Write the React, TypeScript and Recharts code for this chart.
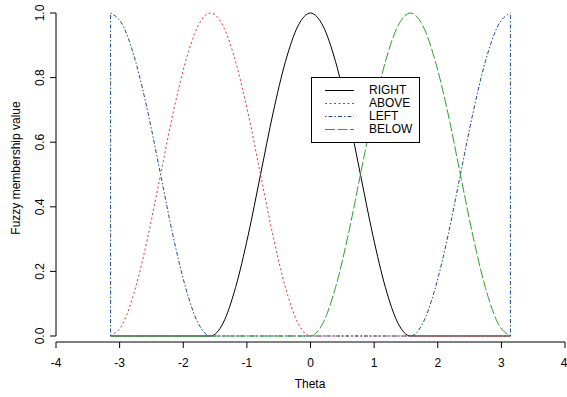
import React from 'react';
import { LineChart, Line, XAxis, YAxis, ReferenceLine } from 'recharts';

// theta grid (step pi/16)
const theta = [
  -3.142, -2.945, -2.749, -2.553, -2.356, -2.16, -1.963, -1.767, -1.571, -1.374, -1.178,
  -0.982, -0.785, -0.589, -0.393, -0.196, 0, 0.196, 0.393, 0.589, 0.785, 0.982, 1.178,
  1.374, 1.571, 1.767, 1.963, 2.16, 2.356, 2.553, 2.749, 2.945, 3.142,
];

const right = [
  0, 0, 0, 0, 0, 0, 0, 0, 0, 0.04, 0.15, 0.31, 0.5, 0.69, 0.85, 0.96, 1,
  0.96, 0.85, 0.69, 0.5, 0.31, 0.15, 0.04, 0, 0, 0, 0, 0, 0, 0, 0, 0,
];
const above = [
  0, 0.04, 0.15, 0.31, 0.5, 0.69, 0.85, 0.96, 1, 0.96, 0.85, 0.69, 0.5, 0.31, 0.15, 0.04, 0,
  0, 0, 0, 0, 0, 0, 0, 0, 0, 0, 0, 0, 0, 0, 0, 0,
];
const left = [
  1, 0.96, 0.85, 0.69, 0.5, 0.31, 0.15, 0.04, 0, 0, 0, 0, 0, 0, 0, 0, 0,
  0, 0, 0, 0, 0, 0, 0, 0, 0.04, 0.15, 0.31, 0.5, 0.69, 0.85, 0.96, 1,
];
const below = [
  0, 0, 0, 0, 0, 0, 0, 0, 0, 0, 0, 0, 0, 0, 0, 0, 0,
  0.04, 0.15, 0.31, 0.5, 0.69, 0.85, 0.96, 1, 0.96, 0.85, 0.69, 0.5, 0.31, 0.15, 0.04, 0,
];

// vertical jumps of LEFT at the ends of the range
const edgeTheta = [-3.142, 3.142];
const edgeValues = [0, 1];

const xTicks = [-4, -3, -2, -1, 0, 1, 2, 3, 4];
const yTicks = [0, 0.2, 0.4, 0.6, 0.8, 1];

const series = [
  { key: 'right', name: 'RIGHT', color: '#000000', dash: undefined },
  { key: 'above', name: 'ABOVE', color: '#e03030', dash: '2 2.5' },
  { key: 'left', name: 'LEFT', color: '#1a4a94', dash: '1.5 2 4 2' },
  { key: 'below', name: 'BELOW', color: '#2aa22a', dash: '10 2.5' },
];

const data = theta.map((t, i) => ({
  theta: t,
  right: right[i],
  above: above[i],
  left: left[i],
  below: below[i],
}));

const font = '"Liberation Sans", Arial, Helvetica, sans-serif';

function YTick(props: any) {
  const { y, payload } = props;
  return (
    <text
      x={44}
      y={y}
      transform={`rotate(-90 44 ${y})`}
      textAnchor="middle"
      fontSize={12}
      fontFamily={font}
      fill="#000"
    >
      {Number(payload.value).toFixed(1)}
    </text>
  );
}

function LegendBox() {
  return (
    <div
      style={{
        position: 'absolute',
        left: 311,
        top: 77,
        width: 109,
        height: 66,
        border: '1px solid #000',
        background: '#fff',
        boxSizing: 'border-box',
        paddingTop: 6,
        fontSize: 12,
      }}
    >
      {series.map((s) => (
        <div key={s.key} style={{ display: 'flex', alignItems: 'center', height: 13 }}>
          <svg width={57} height={13} style={{ display: 'block' }}>
            <line x1={13} x2={42} y1={6.5} y2={6.5} stroke={s.color} strokeDasharray={s.dash} />
          </svg>
          <span style={{ lineHeight: '13px' }}>{s.name}</span>
        </div>
      ))}
    </div>
  );
}

export default function App() {
  return (
    <div style={{ position: 'absolute', left: 0, top: 0, width: 567, height: 397, fontFamily: font }}>
      <LineChart width={567} height={397} data={data} margin={{ top: 7, right: 2, bottom: 0, left: 0 }}>
        <XAxis
          dataKey="theta"
          type="number"
          domain={[-4, 4]}
          ticks={xTicks}
          height={55}
          stroke="#000"
          tickSize={6}
          tickMargin={10}
          tick={{ fill: '#000', fontSize: 12, fontFamily: font }}
        />
        <YAxis
          type="number"
          domain={[0, 1]}
          ticks={yTicks}
          width={56}
          padding={{ top: 6, bottom: 6 }}
          axisLine={false}
          tickLine={{ stroke: '#000' }}
          tickSize={6}
          tick={<YTick />}
        />
        <ReferenceLine
          segment={[{ x: -4, y: 0 }, { x: -4, y: 1 }]}
          stroke="#000"
          ifOverflow="visible"
        />
        {series.map((s) => (
          <Line
            key={s.key}
            dataKey={s.key}
            name={s.name}
            type="monotone"
            stroke={s.color}
            strokeWidth={1}
            strokeDasharray={s.dash}
            dot={false}
            activeDot={false}
            isAnimationActive={false}
          />
        ))}
        {edgeTheta.map((t) => (
          <Line
            key={'edge' + t}
            data={edgeValues.map((v) => ({ theta: t, edge: v }))}
            dataKey="edge"
            type="linear"
            stroke={series[2].color}
            strokeWidth={1}
            strokeDasharray={series[2].dash}
            dot={false}
            activeDot={false}
            legendType="none"
            isAnimationActive={false}
          />
        ))}
      </LineChart>
      <LegendBox />
      <div
        style={{
          position: 'absolute',
          left: 310,
          top: 377,
          transform: 'translateX(-50%)',
          fontSize: 12,
          whiteSpace: 'nowrap',
        }}
      >
        Theta
      </div>
      <div
        style={{
          position: 'absolute',
          left: 16,
          top: 168,
          transform: 'translate(-50%, -50%) rotate(-90deg)',
          fontSize: 12,
          whiteSpace: 'nowrap',
        }}
      >
        Fuzzy membership value
      </div>
    </div>
  );
}
